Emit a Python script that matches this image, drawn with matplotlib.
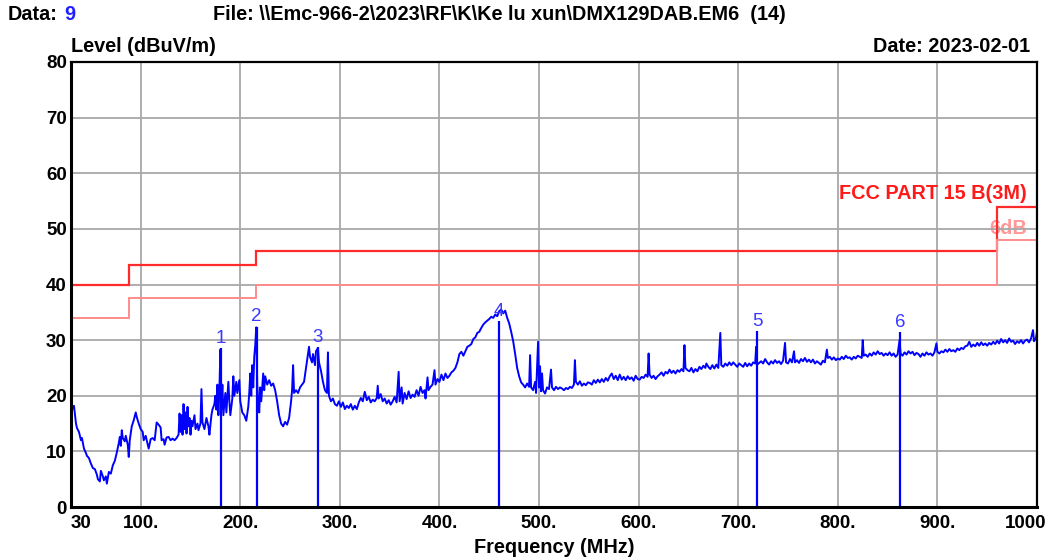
import matplotlib
matplotlib.use('Agg')
import matplotlib.pyplot as plt

plt.rcParams['font.family'] = ['Liberation Sans', 'DejaVu Sans']

# ---------------- data ----------------
freq_mhz = [
    30, 31, 33, 35, 36, 38, 40, 41, 43, 45,
    46, 48, 50, 52, 54, 56, 57, 59, 60, 62,
    63, 65, 66, 68, 70, 72, 74, 76, 78, 79,
    80, 81, 82, 84, 85, 87, 88, 89, 91, 93,
    95, 96, 98, 100, 102, 103, 105, 107, 108, 110,
    112, 114, 116, 118, 120, 121, 123, 124, 126, 128,
    130, 132, 134, 136, 138, 139, 140, 141, 142, 143,
    144, 145, 146, 147, 148, 149, 150, 151, 152, 154,
    155, 157, 158, 160, 161, 162, 164, 166, 168, 169,
    171, 172, 174, 175, 176, 177, 178, 179, 180, 181,
    182, 183, 185, 186, 188, 189, 190, 192, 193, 194,
    196, 197, 199, 200, 202, 204, 206, 208, 209, 210,
    211, 212, 213, 214, 215, 216, 217, 218, 219, 220,
    221, 223, 224, 225, 227, 229, 231, 233, 235, 237,
    239, 241, 243, 245, 247, 249, 251, 252, 253, 254,
    256, 258, 260, 262, 264, 266, 268, 269, 270, 272,
    273, 275, 276, 278, 279, 281, 283, 285, 287, 288,
    289, 291, 293, 295, 297, 299, 301, 303, 305, 307,
    309, 311, 313, 315, 317, 319, 321, 323, 325, 327,
    329, 331, 333, 335, 337, 338, 339, 341, 343, 345,
    347, 349, 351, 353, 355, 357, 359, 360, 362, 363,
    365, 367, 369, 371, 373, 375, 377, 379, 381, 383,
    385, 386, 388, 389, 391, 393, 395, 396, 398, 400,
    402, 404, 406, 408, 410, 412, 414, 416, 418, 420,
    422, 424, 426, 428, 430, 432, 434, 436, 438, 440,
    442, 444, 446, 448, 450, 452, 454, 456, 458, 460,
    462, 464, 466, 468, 470, 472, 474, 476, 478, 480,
    482, 484, 486, 488, 490, 491, 492, 494, 496, 497,
    499, 500, 501, 502, 503, 504, 506, 508, 510, 512,
    513, 515, 517, 519, 521, 523, 525, 527, 529, 531,
    533, 535, 536, 537, 539, 541, 543, 545, 547, 549,
    551, 553, 555, 557, 559, 561, 563, 565, 567, 569,
    571, 573, 575, 577, 579, 581, 583, 585, 587, 589,
    591, 593, 595, 597, 599, 601, 603, 605, 607, 609,
    610, 611, 613, 615, 617, 619, 621, 623, 625, 627,
    629, 631, 633, 635, 637, 639, 641, 643, 645, 646,
    647, 649, 651, 653, 655, 657, 659, 661, 663, 665,
    667, 668, 670, 672, 674, 676, 678, 680, 682, 683,
    685, 687, 689, 691, 693, 695, 697, 699, 701, 703,
    705, 707, 709, 711, 713, 715, 717, 718, 719, 721,
    723, 725, 727, 729, 731, 733, 735, 737, 739, 741,
    743, 745, 747, 748, 750, 752, 754, 756, 757, 759,
    761, 763, 765, 767, 769, 771, 773, 775, 777, 779,
    781, 783, 785, 787, 789, 790, 792, 794, 796, 798,
    800, 802, 804, 806, 808, 810, 812, 814, 816, 818,
    820, 822, 824, 825, 826, 828, 830, 832, 834, 836,
    838, 840, 842, 844, 846, 848, 850, 852, 854, 856,
    858, 860, 862, 863, 865, 867, 869, 871, 873, 875,
    877, 879, 881, 883, 885, 887, 889, 891, 893, 895,
    897, 899, 900, 902, 904, 906, 908, 910, 912, 914,
    916, 918, 920, 922, 924, 926, 928, 930, 932, 934,
    936, 938, 940, 942, 944, 946, 948, 950, 952, 954,
    956, 958, 960, 962, 964, 966, 968, 970, 972, 974,
    976, 978, 980, 982, 984, 986, 988, 990, 992, 994,
    996, 997, 999, 1000,
]

level_dbuv = [
    20.0, 17.5, 18.2, 15.0, 14.2, 13.5, 12.0, 12.4, 10.5, 9.7,
    9.2, 8.8, 7.8, 7.0, 6.8, 5.8, 5.0, 4.6, 6.5, 5.5,
    4.8, 5.5, 4.2, 6.3, 6.0, 7.5, 8.3, 9.8, 11.5, 12.6,
    11.0, 13.8, 12.4, 11.8, 12.8, 11.2, 9.0, 12.0, 14.5, 15.6,
    17.0, 16.2, 15.0, 14.0, 13.5, 12.0, 12.8, 11.3, 10.5, 12.2,
    12.4, 12.0, 15.2, 14.8, 14.3, 12.0, 12.2, 11.2, 12.5, 12.6,
    12.0, 12.3, 12.0, 12.4, 13.0, 16.8, 13.5, 16.5, 13.0, 18.5,
    14.0, 17.0, 13.2, 18.0, 14.5, 16.0, 13.0, 15.5, 14.5, 16.5,
    14.0, 15.0, 13.8, 15.0, 21.2, 15.2, 14.0, 16.0, 14.5, 13.0,
    16.5, 17.5, 18.5, 20.0, 17.5, 22.0, 16.5, 21.0, 28.3, 17.5,
    22.0, 16.5, 20.5, 17.0, 22.5, 19.0, 16.5, 19.5, 23.5, 20.0,
    22.5, 20.5, 22.8, 19.0, 17.0, 16.5, 15.5, 18.0, 20.5, 24.0,
    20.0, 25.5, 21.5, 27.0, 29.0, 32.3, 22.0, 19.0, 17.0, 21.5,
    19.0, 24.0, 21.0, 23.5, 22.0, 22.8, 21.8, 22.2, 21.0, 19.0,
    16.5, 15.0, 14.5, 15.3, 14.8, 16.0, 19.0, 21.0, 25.5, 20.5,
    21.0, 20.5, 21.5, 22.0, 22.5, 25.0, 27.5, 28.8, 27.0, 26.0,
    27.5, 25.5, 28.0, 28.6, 26.0, 24.5, 22.5, 21.0, 20.5, 27.8,
    20.0, 19.0, 19.5, 18.5, 18.2, 19.0, 18.0, 18.8, 17.6, 18.2,
    17.8, 18.5, 17.5, 18.2, 17.6, 18.8, 19.6, 19.0, 20.7, 19.2,
    19.8, 18.8, 19.3, 19.0, 19.6, 21.8, 19.5, 20.3, 19.0, 19.5,
    18.6, 19.2, 18.4, 19.0, 19.8, 18.8, 24.3, 19.0, 21.5, 18.6,
    20.5, 19.4, 20.8, 19.6, 20.2, 19.8, 21.0, 20.0, 21.6, 20.5,
    21.0, 19.5, 23.3, 21.0, 21.6, 22.0, 24.6, 22.0, 23.0, 22.5,
    23.8, 22.8, 24.0, 23.2, 23.6, 24.2, 24.5, 25.0, 26.0, 27.5,
    27.9, 27.2, 28.0, 28.8, 29.0, 29.3, 30.2, 30.5, 31.3, 31.5,
    32.2, 32.8, 33.2, 33.5, 33.8, 34.2, 34.0, 34.6, 34.3, 35.2,
    35.5, 34.8, 35.3, 34.0, 33.0, 31.5, 29.8, 27.5, 25.0, 23.5,
    22.4, 22.0, 21.5, 22.2, 21.6, 27.3, 21.5, 21.0, 22.5, 20.5,
    29.7, 21.5, 25.3, 20.8, 24.0, 21.0, 20.4, 21.5, 21.2, 24.7,
    21.5, 21.0, 21.6, 21.2, 21.5, 21.3, 21.0, 21.4, 21.2, 21.6,
    21.4, 22.0, 26.4, 22.5, 22.0, 22.6, 21.8, 22.2, 21.9, 22.4,
    22.3, 22.0, 22.8, 22.3, 22.9, 22.4, 23.0, 22.5, 23.2, 22.7,
    23.5, 24.0, 23.0, 23.6, 22.8, 23.8, 22.9, 23.4, 22.8, 23.5,
    23.0, 23.3, 22.7, 23.6, 23.0, 22.9, 23.4, 23.2, 23.8, 23.4,
    27.6, 23.8, 23.2, 23.6, 23.0, 23.5, 23.8, 24.2, 23.6, 24.3,
    24.0, 24.7, 24.1, 24.5, 24.0, 24.6, 24.3, 24.8, 24.4, 29.1,
    25.0, 24.6, 24.4, 25.0, 24.2, 24.8, 24.4, 25.2, 24.8, 25.4,
    25.0, 25.8, 25.2, 24.8, 25.5, 24.9, 25.6, 25.0, 31.3, 25.5,
    25.2, 25.8, 25.4, 26.0, 25.5, 26.0, 25.6, 25.2, 25.8, 25.5,
    25.2, 25.9, 25.3, 25.8, 25.4, 26.0, 25.8, 28.8, 25.6, 25.9,
    26.2, 25.8, 26.6, 26.0, 25.6, 26.2, 25.8, 26.4, 25.9, 26.2,
    25.7, 26.3, 29.5, 26.0, 25.8, 26.6, 26.0, 28.0, 26.0, 26.4,
    25.9, 26.6, 26.2, 26.8, 26.1, 26.5, 26.0, 26.5, 25.8, 26.2,
    25.9, 25.6, 26.3, 26.0, 28.3, 26.8, 27.0, 26.5, 26.9, 26.4,
    26.7, 26.5, 27.0, 26.6, 27.2, 26.8, 26.9, 26.5, 27.0, 26.7,
    27.2, 27.0, 26.8, 30.0, 27.2, 27.4, 27.0, 27.6, 27.2, 27.8,
    27.4, 28.0, 27.5, 27.7, 27.2, 27.6, 27.3, 27.8, 27.2, 27.6,
    27.0, 27.4, 30.0, 27.6, 27.2, 27.8, 27.4, 28.0, 27.6, 27.9,
    27.3, 27.7, 27.5, 27.0, 27.6, 27.2, 27.8, 27.4, 27.6, 27.2,
    27.8, 29.4, 27.9, 27.6, 28.0, 27.8, 28.3, 27.9, 28.4, 28.0,
    28.2, 27.9, 28.5, 28.2, 28.6, 28.4, 28.9, 29.0, 29.7, 28.8,
    29.2, 28.9, 29.5, 29.0, 29.6, 29.1, 29.4, 29.0, 29.5, 29.2,
    29.7, 29.3, 29.9, 29.4, 30.2, 29.6, 30.0, 29.5, 30.3, 29.7,
    29.9, 29.3, 29.8, 29.5, 30.0, 29.4, 29.9, 30.1, 29.6, 30.3,
    31.8, 29.8, 30.4, 31.5,
]

limit_edges = [30, 88, 216, 960, 1000]
limit_fcc = [40.0, 43.5, 46.0, 54.0]
limit_margin = [34.0, 37.5, 40.0, 48.0]

marker_freq = [180.3, 216.4, 278.0, 460.0, 718.8, 862.4]
marker_level = [28.5, 32.4, 28.7, 33.4, 31.6, 31.4]
marker_labels = ['1', '2', '3', '4', '5', '6']

x_ticks = [30, 100, 200, 300, 400, 500, 600, 700, 800, 900, 1000]
x_tick_labels = ['30', '100.', '200.', '300.', '400.', '500.', '600.', '700.', '800.', '900.', '1000']
y_ticks = [0, 10, 20, 30, 40, 50, 60, 70, 80]

# ---------------- figure ----------------
W, H = 1058, 560
fig = plt.figure(figsize=(W / 100, H / 100), dpi=100)
ax = fig.add_axes([71 / W, 53 / H, 966 / W, 445 / H])

FS = 13.5
TXT = dict(fontweight='bold', fontsize=FS)
HDR = dict(fontweight='bold', fontsize=14.3)

ax.set_xlim(30, 1000)
ax.set_ylim(0, 80)
ax.set_xticks(x_ticks)
ax.set_xticklabels(['' if t == '1000' else t for t in x_tick_labels], **TXT)
ax.set_yticks(y_ticks)
ax.set_yticklabels([str(v) for v in y_ticks], **TXT)
ax.tick_params(axis='both', length=0)
ax.tick_params(axis='x', pad=6)
ax.tick_params(axis='y', pad=3)
ax.get_xticklabels()[0].set_horizontalalignment('left')
ax.annotate(x_tick_labels[-1], xy=(1000, 0), xytext=(-8, -6),
            textcoords='offset points', ha='center', va='top', **TXT,
            annotation_clip=False)

ax.grid(True, color='#a8a8a8', linewidth=1.3)
ax.set_axisbelow(True)
for side in ['left', 'bottom']:
    ax.spines[side].set_linewidth(2.2)
for side in ['top', 'right']:
    ax.spines[side].set_linewidth(1.6)
for s in ax.spines.values():
    s.set_color('black')
    s.set_zorder(5)

# limit lines
ax.stairs(limit_fcc, limit_edges, baseline=None, color='#ff2a2a', linewidth=1.6, zorder=3)
ax.stairs(limit_margin, limit_edges, baseline=None, color='#ff8c8c', linewidth=1.4, zorder=3)

# trace
ax.plot(freq_mhz, level_dbuv, color='#0000ff', linewidth=1.4, zorder=4)

# markers
ax.vlines(marker_freq, 0, marker_level, color='#0000ff', linewidth=1.6, zorder=4)
for f, v, lab in zip(marker_freq, marker_level, marker_labels):
    ax.annotate(lab, xy=(f, v), xytext=(0, 1), textcoords='offset points',
                ha='center', va='bottom', color='#3a3aff', fontsize=13.5, zorder=6)

ax.text(990, 56.3, 'FCC PART 15 B(3M)', color='#ff1a1a', ha='right', va='center', **HDR, zorder=2)
ax.text(990, 50.0, '6dB', color='#ff9999', ha='right', va='center', **HDR, zorder=0.4)

ax.set_xlabel('Frequency (MHz)', labelpad=4, **HDR)

# header texts
def ftext(x, y, s, **kw):
    fig.text(x / W, 1 - y / H, s, va='center', **kw)

ftext(8, 14, 'Data:', ha='left', **HDR)
ftext(64, 14, '9', ha='left', color='#2020ff', **HDR)
ftext(213, 14, r'File: \\Emc-966-2\2023\RF\K\Ke lu xun\DMX129DAB.EM6  (14)', ha='left', **HDR)
ftext(71, 47, 'Level (dBuV/m)', ha='left', **HDR)
ftext(1030, 47, 'Date: 2023-02-01', ha='right', **HDR)

fig.savefig('out.png', dpi=100)
